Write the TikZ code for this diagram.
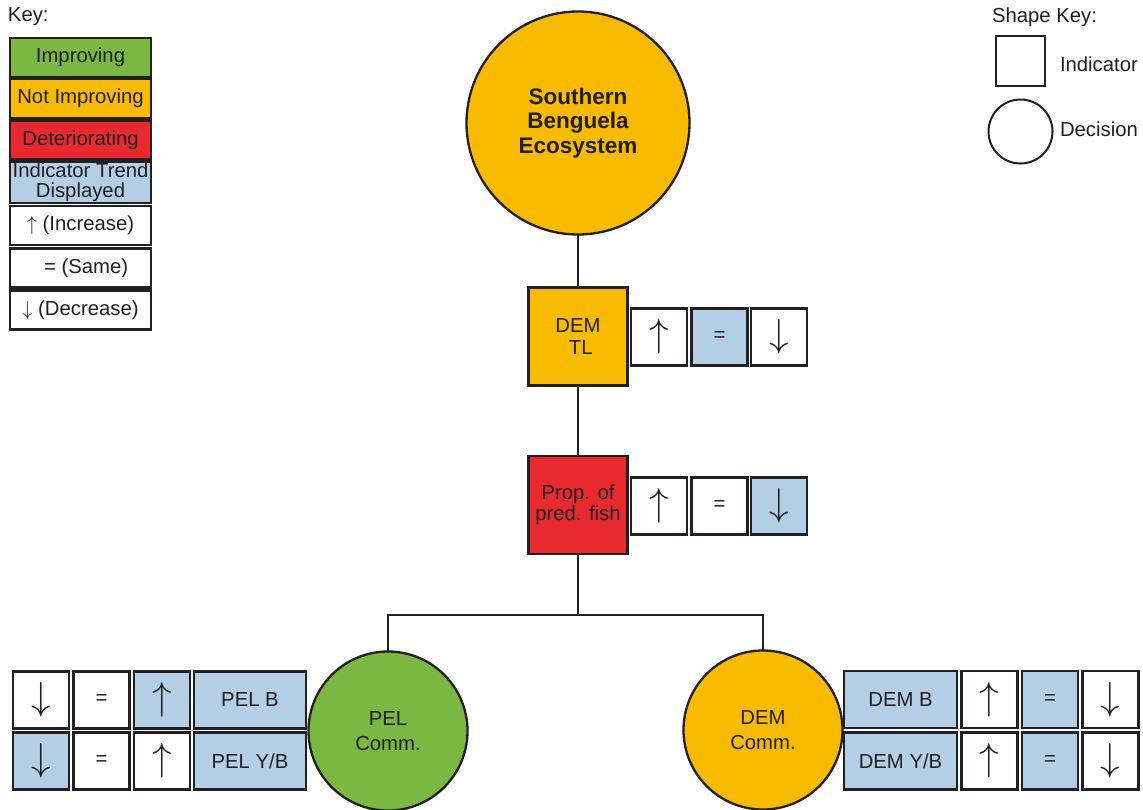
\RequirePackage{fix-cm}
\documentclass[tikz,border=0pt]{standalone}
\usepackage{fontspec}
\setmainfont{Liberation Sans}

\definecolor{ink}{HTML}{231F20}
\definecolor{good}{HTML}{7AB743}
\definecolor{flat}{HTML}{F8BB00}
\definecolor{bad}{HTML}{E82930}
\definecolor{shown}{HTML}{B3CEE5}

\newcommand{\upglyph}{{\fontsize{39}{39}\selectfont$\uparrow$}}
\newcommand{\downglyph}{{\fontsize{39}{39}\selectfont$\downarrow$}}

\begin{document}
\begin{tikzpicture}[x=1pt,y=-1pt,
  every node/.style={inner sep=0pt, outer sep=0pt, align=center, text=ink,
                     font=\fontsize{20.3}{21.5}\selectfont},
  box/.style={draw=ink, line width=2.5pt, rectangle},
  keyrow/.style={box, minimum width=141pt, minimum height=39pt},
  indbox/.style={box, minimum width=99pt, minimum height=98pt},
  cell/.style={box, minimum width=56pt, minimum height=57pt, fill=white},
  widecell/.style={box, minimum width=112pt, minimum height=57pt, fill=shown},
  decision/.style={draw=ink, line width=2.3pt, circle},
  community/.style={decision, minimum size=159pt, font=\fontsize{20.3}{25.5}\selectfont},
  conn/.style={draw=ink, line width=2.8pt},
  label/.style={anchor=west}
]
\useasboundingbox (0,0) rectangle (1143,809);

% ---- colour key ----
\node[label] (keytitle) at (8,17) {Key:};
\node[keyrow, fill=good]  (k1) at (80.5,57.5)  {Improving};
\node[keyrow, fill=flat]  (k2) at (80.5,98.5)  {Not Improving};
\node[keyrow, fill=bad]   (k3) at (80.5,140)   {Deteriorating};
\node[keyrow, fill=shown, minimum height=41pt, font=\fontsize{20.3}{20}\selectfont]
      (k4) at (80.5,182.5) {Indicator Trend\\Displayed};
\node[keyrow, fill=white] (k5) at (80.5,225.5) {$\uparrow$ (Increase)};
\node[keyrow, fill=white] (k6) at (80.5,268)   {\ \ = (Same)};
\node[keyrow, fill=white] (k7) at (80.5,310)   {$\downarrow$ (Decrease)};

% ---- shape key ----
\node[label] (shapetitle) at (992,17) {Shape Key:};
\node[draw=ink, line width=2pt, minimum width=49pt, minimum height=50pt] (sq) at (1020,60.5) {};
\node[label] (sqlabel) at (1060,64) {Indicator};
\node[decision, line width=2pt, minimum size=64pt] (ci) at (1020.5,131.5) {};
\node[label] (cilabel) at (1060,129) {Decision};

% ---- decision tree ----
\node[decision, fill=flat, minimum size=223pt,
      font=\fontsize{22.5}{24.5}\selectfont\bfseries] (eco) at (578,123)
      {Southern\\Benguela\\Ecosystem};

\node[indbox, fill=flat] (demtl) at (578,336.5) {DEM\\\ TL};
\node[cell]              (t1) at (659,337)   {\upglyph};
\node[cell, fill=shown]  (t2) at (719.5,337) {=};
\node[cell]              (t3) at (779,337)   {\downglyph};

\node[indbox, fill=bad]  (prop) at (578,505) {Prop. of\\pred. fish};
\node[cell]              (p1) at (659,506)   {\upglyph};
\node[cell]              (p2) at (719.5,506) {=};
\node[cell, fill=shown]  (p3) at (779,506)   {\downglyph};

\node[community, fill=good] (pel) at (388,731) {PEL\\Comm.};
\node[community, fill=flat] (dem) at (763,730) {DEM\\Comm.};

% pelagic indicators
\node[widecell] (pelb)  at (250,700) {PEL B};
\node[cell]     (pb1)   at (41,700)    {\downglyph};
\node[cell]     (pb2)   at (101.5,700) {=};
\node[cell, fill=shown] (pb3) at (162,700) {\upglyph};
\node[widecell] (pelyb) at (250,761) {PEL Y/B};
\node[cell, fill=shown] (py1) at (41,761) {\downglyph};
\node[cell]     (py2)   at (101.5,761) {=};
\node[cell]     (py3)   at (162,761)   {\upglyph};

% demersal indicators
\node[widecell, minimum width=113pt] (demb)  at (900.5,699.5) {DEM B};
\node[cell]             (db1) at (989.5,699.5) {\upglyph};
\node[cell, fill=shown] (db2) at (1050,699.5)  {=};
\node[cell]             (db3) at (1110.5,699.5){\downglyph};
\node[widecell, minimum width=113pt] (demyb) at (900.5,761) {DEM Y/B};
\node[cell]             (dy1) at (989.5,761)   {\upglyph};
\node[cell, fill=shown] (dy2) at (1050,761)    {=};
\node[cell]             (dy3) at (1110.5,761)  {\downglyph};

% ---- connectors ----
\coordinate (split) at (578,615);
\draw[conn] (eco) -- (demtl);
\draw[conn] (demtl) -- (prop);
\draw[conn] (prop) -- (split);
\draw[conn] (split) -| (pel);
\draw[conn] (split) -| (dem);
\end{tikzpicture}
\end{document}
